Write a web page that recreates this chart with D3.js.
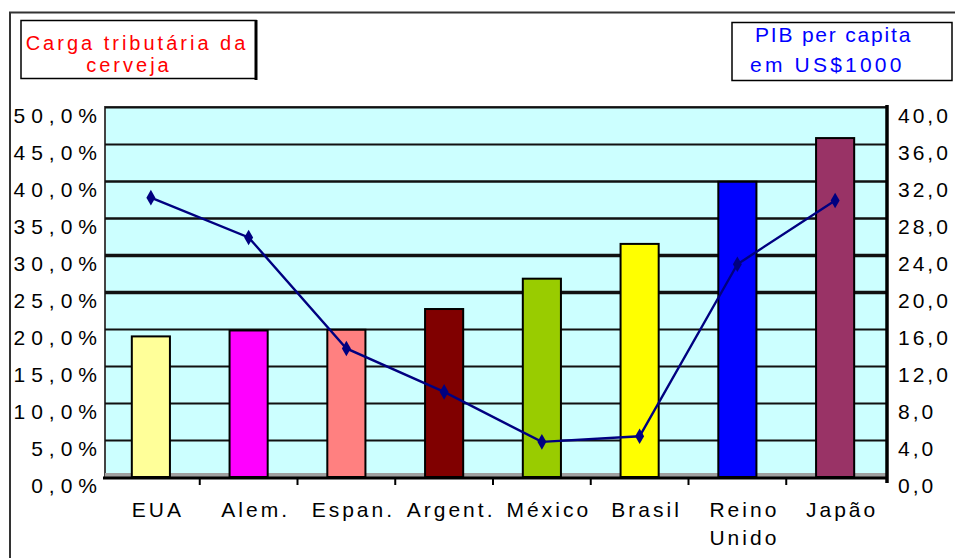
<!DOCTYPE html>
<html>
<head>
<meta charset="utf-8">
<script src="https://cdn.jsdelivr.net/npm/d3@7"></script>
<style>
  html, body { margin: 0; padding: 0; background: #fff; }
  svg { display: block; }
  text { font-family: "Liberation Sans", Arial, sans-serif; }
</style>
</head>
<body>
<svg id="chart" width="955" height="558"></svg>
<script>
// Beer tax burden (bars, left axis) and GDP per capita in US$1000 (line, right axis)
const categories = ["EUA", "Alem.", "Espan.", "Argent.", "México", "Brasil", "Reino Unido", "Japão"];
const cargaTributaria = [19.0, 19.8, 19.9, 22.7, 26.8, 31.5, 39.9, 45.8];
const pibPerCapita = [30.2, 25.9, 13.9, 9.2, 3.8, 4.4, 23.0, 29.9];
const leftTicks = [0, 5, 10, 15, 20, 25, 30, 35, 40, 45, 50];
const rightTicks = [0, 4, 8, 12, 16, 20, 24, 28, 32, 36, 40];
const barColors = ["#ffff99", "#ff00ff", "#ff8080", "#800000", "#99cc00", "#ffff00", "#0000ff", "#993366"];

const svg = d3.select("#chart");

// plot frame
const plot = { left: 105, right: 887, top: 107, bottom: 477 };

const x = d3.scaleBand().domain(categories).range([102, 884]).paddingInner(0.61).paddingOuter(0.305);
const xBand = d3.scaleBand().domain(categories).range([102, 884]);
const yLeft = d3.scaleLinear().domain([0, 50]).range([plot.bottom, plot.top]);
const yRight = d3.scaleLinear().domain([0, 40]).range([plot.bottom, plot.top]);

// outer chart frame
svg.append("rect")
  .attr("x", 10).attr("y", 12.5).attr("width", 960).attr("height", 560)
  .attr("fill", "none").attr("stroke", "#333").attr("stroke-width", 2);

// plot background
svg.append("rect")
  .attr("x", plot.left).attr("y", plot.top)
  .attr("width", plot.right - plot.left).attr("height", plot.bottom - plot.top)
  .attr("fill", "#ccffff").attr("stroke", "#444").attr("stroke-width", 2);

// horizontal gridlines
const grid = svg.append("g")
  .attr("transform", `translate(${plot.left},0)`)
  .call(d3.axisLeft(yLeft).tickValues(leftTicks).tickSize(-(plot.right - plot.left)).tickFormat(""));
grid.select(".domain").remove();
grid.selectAll(".tick line")
  .attr("stroke", "#111")
  .attr("stroke-width", d => (d === 25 || d === 30) ? 3.5 : (d === 40 || d === 35 ? 2.5 : 2));

// floor strip
svg.append("rect")
  .attr("x", plot.left).attr("y", plot.bottom - 4)
  .attr("width", plot.right - plot.left).attr("height", 4)
  .attr("fill", "#a0a0a0");

// bars
svg.append("g").selectAll("rect")
  .data(categories)
  .join("rect")
  .attr("x", d => x(d))
  .attr("y", (d, i) => yLeft(cargaTributaria[i]))
  .attr("width", x.bandwidth())
  .attr("height", (d, i) => yLeft(0) - yLeft(cargaTributaria[i]))
  .attr("fill", (d, i) => barColors[i])
  .attr("stroke", "#000")
  .attr("stroke-width", 2);

// category axis
const xAxis = svg.append("g")
  .attr("transform", `translate(0,${plot.bottom + 1})`)
  .call(d3.axisBottom(xBand).tickSize(0).tickFormat(""));
xAxis.select(".domain").attr("stroke", "#000").attr("stroke-width", 3)
  .attr("d", `M${plot.left - 2},0H${plot.right}`);
// tick marks between categories
svg.append("g").selectAll("line")
  .data(categories.slice(1))
  .join("line")
  .attr("x1", d => xBand(d)).attr("x2", d => xBand(d))
  .attr("y1", plot.bottom).attr("y2", plot.bottom + 8)
  .attr("stroke", "#000").attr("stroke-width", 2);

const labelX = d => xBand(d) + xBand.bandwidth() / 2 + 7;
svg.append("g").selectAll("text")
  .data(categories)
  .join("text")
  .attr("x", labelX)
  .attr("y", 517)
  .attr("text-anchor", "middle")
  .attr("font-size", 21)
  .attr("letter-spacing", 3)
  .attr("fill", "#000")
  .each(function (d) {
    const words = d.split(" ");
    d3.select(this).selectAll("tspan")
      .data(words)
      .join("tspan")
      .attr("x", labelX(d))
      .attr("dy", (w, i) => i === 0 ? 0 : 28)
      .text(w => w);
  });

// left axis labels
const fmtLeft = v => d3.format(".1f")(v).replace(".", ",") + "%";
const leftAxis = svg.append("g")
  .attr("transform", `translate(${plot.left + 1},0)`)
  .call(d3.axisLeft(yLeft).tickValues(leftTicks).tickSize(0).tickFormat(fmtLeft));
leftAxis.select(".domain").remove();
leftAxis.selectAll("text")
  .attr("font-size", 21).attr("letter-spacing", 6).attr("fill", "#000")
  .attr("dy", "0.72em");

// right axis
const fmtRight = v => d3.format(".1f")(v).replace(".", ",");
svg.append("line")
  .attr("x1", plot.right).attr("x2", plot.right)
  .attr("y1", plot.top - 2).attr("y2", plot.bottom + 6)
  .attr("stroke", "#000").attr("stroke-width", 3.5);
const rightAxis = svg.append("g")
  .attr("transform", `translate(${plot.right + 11},0)`)
  .call(d3.axisRight(yRight).tickValues(rightTicks).tickSize(0).tickFormat(fmtRight));
rightAxis.select(".domain").remove();
rightAxis.selectAll("text")
  .attr("font-size", 21).attr("letter-spacing", 3).attr("fill", "#000")
  .attr("x", 0).attr("dy", "0.72em");

// GDP per capita line
const cx = d => xBand(d) + xBand.bandwidth() / 2;
const line = d3.line()
  .x((v, i) => cx(categories[i]))
  .y(v => yRight(v));
svg.append("path")
  .datum(pibPerCapita)
  .attr("d", line)
  .attr("fill", "none")
  .attr("stroke", "#000080")
  .attr("stroke-width", 2.4);
svg.append("g").selectAll("path")
  .data(pibPerCapita)
  .join("path")
  .attr("transform", (v, i) => `translate(${cx(categories[i])},${yRight(v)})`)
  .attr("d", d3.symbol(d3.symbolDiamond, 70))
  .attr("fill", "#000080");

// legend: beer tax burden
svg.append("rect")
  .attr("x", 21).attr("y", 20.5).attr("width", 235).attr("height", 58)
  .attr("fill", "#fff").attr("stroke", "#000").attr("stroke-width", 1.5);
svg.append("line")
  .attr("x1", 256).attr("x2", 256).attr("y1", 20).attr("y2", 80)
  .attr("stroke", "#000").attr("stroke-width", 3);
const legL = svg.append("text")
  .attr("text-anchor", "middle").attr("font-size", 20).attr("letter-spacing", 3)
  .attr("fill", "#ff0000");
legL.append("tspan").attr("x", 137).attr("y", 50).text("Carga tributária da");
legL.append("tspan").attr("x", 129).attr("y", 72).text("cerveja");

// legend: GDP per capita
svg.append("rect")
  .attr("x", 732).attr("y", 22.5).attr("width", 220).attr("height", 58)
  .attr("fill", "#fff").attr("stroke", "#000").attr("stroke-width", 1.5);
const legR = svg.append("text")
  .attr("font-size", 21)
  .attr("fill", "#0000ff");
legR.append("tspan").attr("x", 755).attr("y", 42).attr("letter-spacing", 1.8).text("PIB per capita");
legR.append("tspan").attr("x", 750).attr("y", 72).attr("letter-spacing", 3.2).text("em  US$1000");
</script>
</body>
</html>
